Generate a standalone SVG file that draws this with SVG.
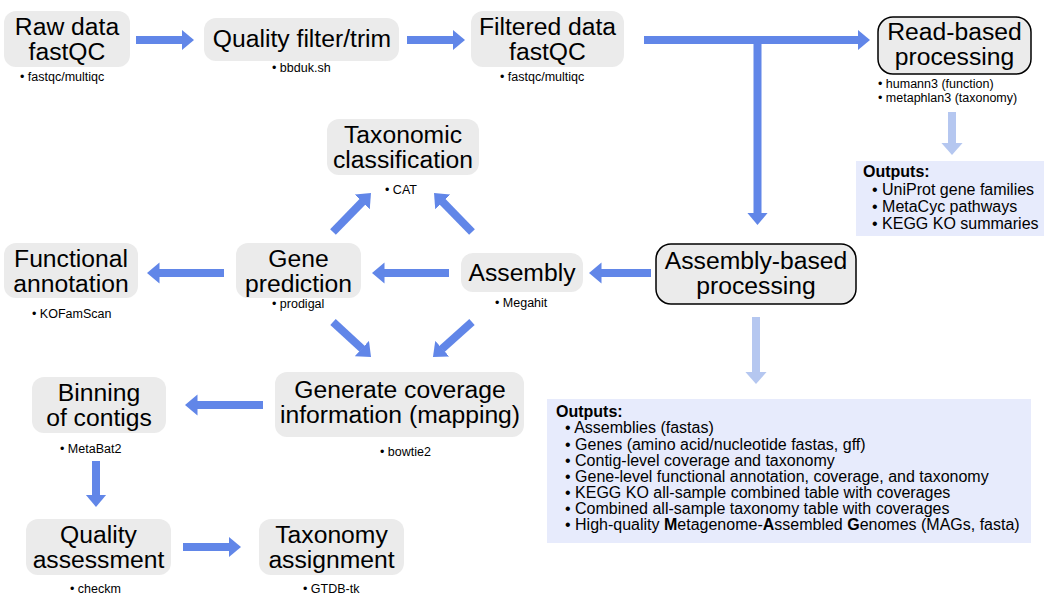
<svg xmlns="http://www.w3.org/2000/svg" width="1045" height="596" viewBox="0 0 1045 596">
  <style>
    text { font-family: "Liberation Sans", Arial, sans-serif; fill: #000; }
    .box { fill: #ebebeb; }
    .boxb { fill: #ebebeb; stroke: #000; stroke-width: 1.5; }
    .out { fill: #e7ebfc; }
    .t { font-size: 24.7px; text-anchor: middle; }
    .s { font-size: 12.5px; }
    .o { font-size: 16px; }
    .ob { font-size: 16px; font-weight: bold; }
    .a { stroke: #6186e8; stroke-width: 8; fill: none; marker-end: url(#head); }
    .al { stroke: #b5c7f0; stroke-width: 8; fill: none; marker-end: url(#headl); }
  </style>
  <defs>
    <marker id="head" markerUnits="userSpaceOnUse" markerWidth="14" markerHeight="22" viewBox="0 -11 14 22" refX="0.5" refY="0" orient="auto">
      <path d="M0,-10.5 L12.5,0 L0,10.5 z" fill="#6186e8"/>
    </marker>
    <marker id="headl" markerUnits="userSpaceOnUse" markerWidth="14" markerHeight="24" viewBox="0 -12 14 24" refX="0.5" refY="0" orient="auto">
      <path d="M0,-11 L12.5,0 L0,11 z" fill="#b5c7f0"/>
    </marker>
  </defs>

  <!-- connectors -->
  <g id="connectors">
    <path class="a" d="M136,40 H182"/>
    <path class="a" d="M407,40 H453"/>
    <path class="a" d="M644,40 H858"/>
    <path class="a" d="M757.5,40 V213"/>
    <path class="al" d="M952,112 V143"/>
    <path class="a" d="M651,273 H601"/>
    <path class="a" d="M449,273 H384"/>
    <path class="a" d="M224,273 H159"/>
    <path class="a" d="M333,232 L362.6,201.6"/>
    <path class="a" d="M472,232 L442.4,201.6"/>
    <path class="a" d="M333,322 L362.2,348.9"/>
    <path class="a" d="M472,322 L441.9,349"/>
    <path class="al" d="M756,317 V372"/>
    <path class="a" d="M263,405 H197"/>
    <path class="a" d="M96,461 V495"/>
    <path class="a" d="M183,547 H229"/>
  </g>

  <g id="raw-data">
    <rect class="box" x="4" y="11" width="126" height="56" rx="12"/>
    <text class="t" x="67" y="35">Raw data</text>
    <text class="t" x="67" y="60">fastQC</text>
    <text class="s" x="20" y="81">• fastqc/multiqc</text>
  </g>

  <g id="quality-filter">
    <rect class="box" x="204" y="18" width="195" height="43" rx="12"/>
    <text class="t" x="302" y="47">Quality filter/trim</text>
    <text class="s" x="272" y="72">• bbduk.sh</text>
  </g>

  <g id="filtered-data">
    <rect class="box" x="471" y="11" width="153" height="56" rx="12"/>
    <text class="t" x="547.5" y="35">Filtered data</text>
    <text class="t" x="547.5" y="60">fastQC</text>
    <text class="s" x="500" y="81">• fastqc/multiqc</text>
  </g>

  <g id="read-based">
    <rect class="boxb" x="878" y="17" width="153" height="57" rx="15"/>
    <text class="t" x="954.5" y="40">Read-based</text>
    <text class="t" x="954.5" y="65">processing</text>
    <text class="s" x="878" y="88">• humann3 (function)</text>
    <text class="s" x="878" y="102">• metaphlan3 (taxonomy)</text>
  </g>

  <g id="read-outputs">
    <rect class="out" x="856" y="161" width="188" height="75"/>
    <text class="ob" x="863" y="177">Outputs:</text>
    <text class="o" x="872" y="195">• UniProt gene families</text>
    <text class="o" x="872" y="212">• MetaCyc pathways</text>
    <text class="o" x="872" y="229">• KEGG KO summaries</text>
  </g>

  <g id="taxonomic-classification">
    <rect class="box" x="327" y="119" width="152" height="56" rx="12"/>
    <text class="t" x="403" y="143">Taxonomic</text>
    <text class="t" x="403" y="168">classification</text>
    <text class="s" x="385" y="194">• CAT</text>
  </g>

  <g id="functional-annotation">
    <rect class="box" x="4" y="243" width="134" height="55" rx="12"/>
    <text class="t" x="71" y="267">Functional</text>
    <text class="t" x="71" y="292">annotation</text>
    <text class="s" x="32" y="318">• KOFamScan</text>
  </g>

  <g id="gene-prediction">
    <rect class="box" x="236" y="243" width="125" height="55" rx="12"/>
    <text class="t" x="298.5" y="267">Gene</text>
    <text class="t" x="298.5" y="292">prediction</text>
    <text class="s" x="272" y="308">• prodigal</text>
  </g>

  <g id="assembly">
    <rect class="box" x="461" y="253" width="122" height="39" rx="12"/>
    <text class="t" x="522" y="281">Assembly</text>
    <text class="s" x="495" y="307">• Megahit</text>
  </g>

  <g id="assembly-based">
    <rect class="boxb" x="656" y="244" width="200" height="60" rx="15"/>
    <text class="t" x="756" y="269">Assembly-based</text>
    <text class="t" x="756" y="294">processing</text>
  </g>

  <g id="assembly-outputs">
    <rect class="out" x="547" y="399" width="484" height="144"/>
    <text class="ob" x="556" y="417">Outputs:</text>
    <text class="o" x="565" y="433">• Assemblies (fastas)</text>
    <text class="o" x="565" y="450">• Genes (amino acid/nucleotide fastas, gff)</text>
    <text class="o" x="565" y="466">• Contig-level coverage and taxonomy</text>
    <text class="o" x="565" y="482">• Gene-level functional annotation, coverage, and taxonomy</text>
    <text class="o" x="565" y="498">• KEGG KO all-sample combined table with coverages</text>
    <text class="o" x="565" y="514">• Combined all-sample taxonomy table with coverages</text>
    <text class="o" x="565" y="530">• High-quality <tspan font-weight="bold">M</tspan>etagenome-<tspan font-weight="bold">A</tspan>ssembled <tspan font-weight="bold">G</tspan>enomes (MAGs, fasta)</text>
  </g>

  <g id="coverage">
    <rect class="box" x="275" y="372" width="249" height="65" rx="12"/>
    <text class="t" x="400" y="398">Generate coverage</text>
    <text class="t" x="400" y="423">information (mapping)</text>
    <text class="s" x="380" y="456">• bowtie2</text>
  </g>

  <g id="binning">
    <rect class="box" x="32" y="377" width="134" height="56" rx="12"/>
    <text class="t" x="99" y="401">Binning</text>
    <text class="t" x="99" y="426">of contigs</text>
    <text class="s" x="60" y="453">• MetaBat2</text>
  </g>

  <g id="quality-assessment">
    <rect class="box" x="26" y="519" width="145" height="56" rx="12"/>
    <text class="t" x="98.5" y="543">Quality</text>
    <text class="t" x="98.5" y="568">assessment</text>
    <text class="s" x="70" y="593">• checkm</text>
  </g>

  <g id="taxonomy-assignment">
    <rect class="box" x="259" y="519" width="145" height="56" rx="12"/>
    <text class="t" x="331.5" y="543">Taxonomy</text>
    <text class="t" x="331.5" y="568">assignment</text>
    <text class="s" x="303" y="593">• GTDB-tk</text>
  </g>
</svg>
